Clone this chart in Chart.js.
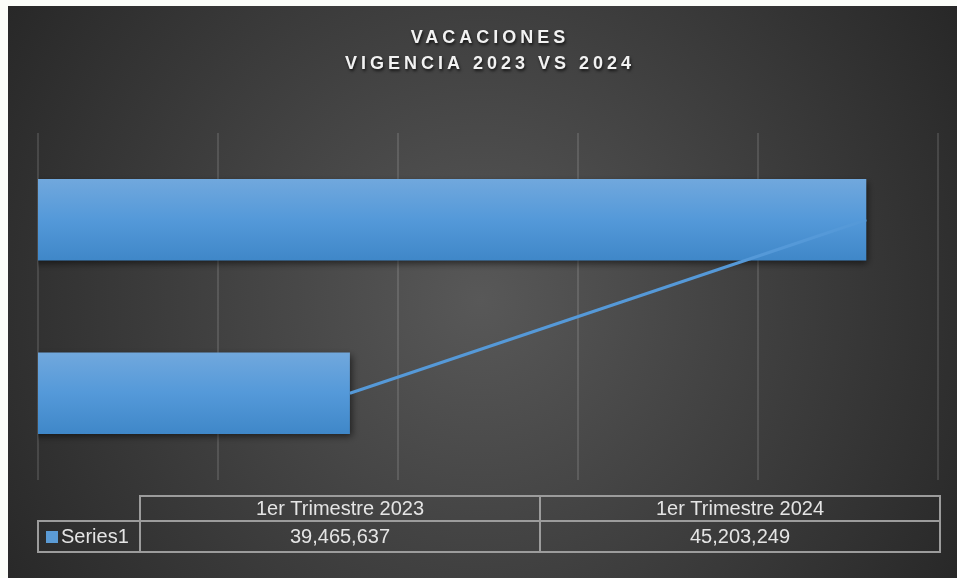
<!DOCTYPE html>
<html>
<head>
<meta charset="utf-8">
<script src="https://cdn.jsdelivr.net/npm/chart.js@4.4.1/dist/chart.umd.min.js"></script>
<style>
  html, body { margin: 0; padding: 0; background: #fbfdf9; }
  #wrap { position: relative; width: 957px; height: 578px; }
</style>
</head>
<body>
<div id="wrap"><canvas id="chart"></canvas></div>
<script>
// data
const categories = ['1er Trimestre 2023', '1er Trimestre 2024'];
const seriesName = 'Series1';
const values = [39465637, 45203249];
const titleLines = ['VACACIONES', 'VIGENCIA 2023 VS 2024'];
const axisMin = 36000000, axisMax = 46000000, axisStep = 2000000;

const fmt = v => v.toLocaleString('en-US');

function barFill(c) {
  const chart = c.chart;
  if (!chart.chartArea || c.type !== 'data') return '#5599d8';
  const y = chart.scales.y.getPixelForValue(c.dataIndex);
  const g = chart.ctx.createLinearGradient(0, y - 41, 0, y + 41);
  g.addColorStop(0, '#71a8dd');
  g.addColorStop(0.5, '#5499d9');
  g.addColorStop(1, '#3f87c8');
  return g;
}

// background: light slide strip + dark radial panel
const bgPlugin = {
  id: 'bg',
  beforeDraw(chart) {
    const ctx = chart.ctx, w = chart.width, h = chart.height;
    ctx.save();
    ctx.fillStyle = '#fbfdf9';
    ctx.fillRect(0, 0, w, h);
    const g = ctx.createRadialGradient(480, 300, 0, 480, 300, 600);
    g.addColorStop(0, '#585858');
    g.addColorStop(1, '#242424');
    ctx.fillStyle = g;
    ctx.fillRect(8, 6, w - 8, h - 6);
    ctx.restore();
  }
};

// drop shadow under bars
const shadowPlugin = {
  id: 'barShadow',
  beforeDatasetDraw(chart, args) {
    if (args.meta.type !== 'bar') return;
    const ctx = chart.ctx;
    ctx.save();
    ctx.shadowColor = 'rgba(0,0,0,0.55)';
    ctx.shadowBlur = 7;
    ctx.shadowOffsetX = 2;
    ctx.shadowOffsetY = 3;
  },
  afterDatasetDraw(chart, args) {
    if (args.meta.type !== 'bar') return;
    chart.ctx.restore();
  }
};

// spaced title
const titlePlugin = {
  id: 'spacedTitle',
  afterDraw(chart) {
    const ctx = chart.ctx;
    ctx.save();
    ctx.font = 'bold 18px "Liberation Sans", Arial, sans-serif';
    ctx.letterSpacing = '4px';
    ctx.textAlign = 'center';
    ctx.textBaseline = 'middle';
    ctx.fillStyle = '#f2f2f2';
    ctx.shadowColor = 'rgba(0,0,0,0.7)';
    ctx.shadowBlur = 3;
    ctx.shadowOffsetX = 1;
    ctx.shadowOffsetY = 2;
    ctx.fillText(titleLines[0], 490, 38);
    ctx.fillText(titleLines[1], 490, 64);
    ctx.restore();
  }
};

// data table below the plot
const tablePlugin = {
  id: 'dataTable',
  afterDraw(chart) {
    const ctx = chart.ctx;
    const x0 = 38, x1 = 140, x3 = 940, x2 = (x1 + x3) / 2;
    const yT = 496, yM = 521, yB = 552;
    ctx.save();
    ctx.strokeStyle = '#9c9c9c';
    ctx.lineWidth = 2;
    ctx.beginPath();
    ctx.rect(x1, yT, x3 - x1, yB - yT);
    ctx.rect(x0, yM, x1 - x0, yB - yM);
    ctx.moveTo(x1, yM); ctx.lineTo(x3, yM);
    ctx.moveTo(x2, yT); ctx.lineTo(x2, yB);
    ctx.stroke();

    ctx.font = '20px "Liberation Sans", Arial, sans-serif';
    ctx.fillStyle = '#e4e4e4';
    ctx.textBaseline = 'middle';
    ctx.textAlign = 'center';
    const cols = [x1, x2, x3];
    categories.forEach((cat, i) => {
      const cx = (cols[i] + cols[i + 1]) / 2;
      ctx.fillText(cat, cx, (yT + yM) / 2 + 1);
      ctx.fillText(fmt(values[i]), cx, (yM + yB) / 2 + 1);
    });
    ctx.fillStyle = '#5b9bd5';
    ctx.fillRect(46, 531, 12, 12);
    ctx.fillStyle = '#e4e4e4';
    ctx.textAlign = 'left';
    ctx.fillText(seriesName, 61, (yM + yB) / 2 + 1);
    ctx.restore();
  }
};

new Chart(document.getElementById('chart'), {
  data: {
    labels: categories,
    datasets: [
      {
        type: 'line',
        label: seriesName,
        data: values,
        indexAxis: 'y',
        borderColor: '#5599d8',
        borderWidth: 3,
        pointRadius: 0,
        order: 0
      },
      {
        type: 'bar',
        label: seriesName,
        data: values,
        indexAxis: 'y',
        backgroundColor: barFill,
        categoryPercentage: 1,
        barPercentage: 0.47,
        order: 1
      }
    ]
  },
  options: {
    indexAxis: 'y',
    responsive: true,
    maintainAspectRatio: false,
    animation: false,
    layout: { padding: { left: 38, right: 19, top: 133, bottom: 98 } },
    plugins: { legend: { display: false }, tooltip: { enabled: false } },
    scales: {
      x: {
        min: axisMin,
        max: axisMax,
        ticks: { display: false, stepSize: axisStep },
        border: { display: false },
        grid: { color: 'rgba(255,255,255,0.12)', lineWidth: 2, drawTicks: false }
      },
      y: {
        display: false,
        reverse: true,
        offset: true
      }
    }
  },
  plugins: [bgPlugin, shadowPlugin, titlePlugin, tablePlugin]
});
</script>
</body>
</html>
